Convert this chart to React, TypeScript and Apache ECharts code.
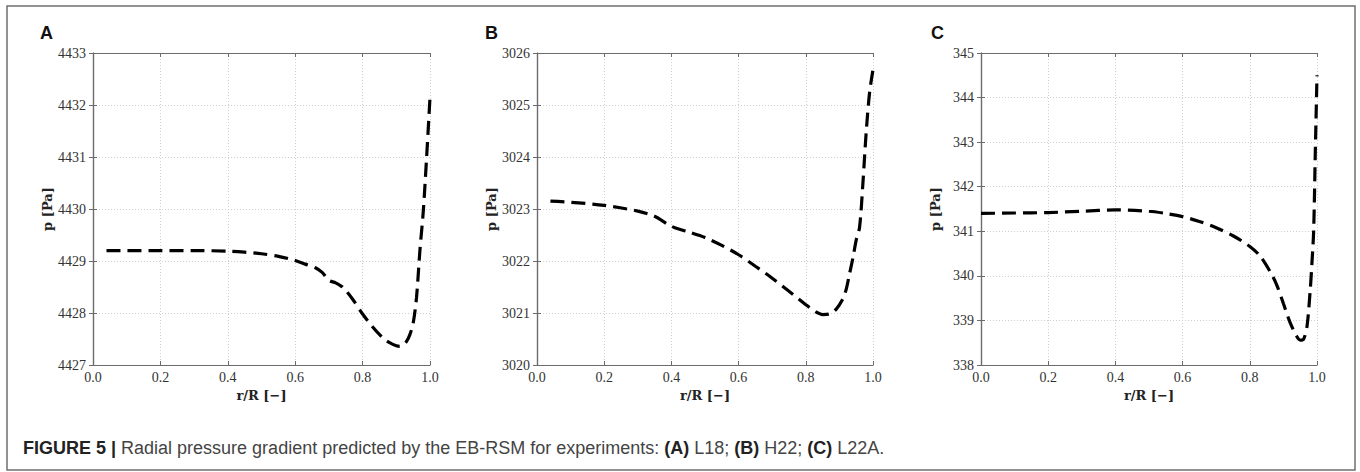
import React, { useEffect, useRef } from "react";
import * as echarts from "echarts";

// Panel A: L18
const rA = [0.04, 0.1, 0.2, 0.3, 0.4, 0.45, 0.5, 0.55, 0.6, 0.63, 0.66, 0.68, 0.7, 0.72, 0.74, 0.77, 0.8, 0.83, 0.86, 0.88, 0.9, 0.91, 0.92, 0.93, 0.94, 0.95, 0.96, 0.97, 0.98, 0.99, 1.0];
const pA = [4429.2, 4429.2, 4429.2, 4429.2, 4429.19, 4429.17, 4429.14, 4429.09, 4429.01, 4428.94, 4428.87, 4428.78, 4428.63, 4428.58, 4428.5, 4428.27, 4427.98, 4427.73, 4427.52, 4427.43, 4427.37, 4427.36, 4427.38, 4427.45, 4427.58, 4427.8, 4428.3, 4429.2, 4429.95, 4431.0, 4432.15];

// Panel B: H22
const rB = [0.04, 0.1, 0.2, 0.3, 0.35, 0.39, 0.41, 0.45, 0.5, 0.55, 0.6, 0.65, 0.7, 0.75, 0.8, 0.83, 0.85, 0.87, 0.89, 0.91, 0.92, 0.93, 0.94, 0.95, 0.96, 0.97, 0.98, 0.99, 1.0];
const pB = [3023.15, 3023.13, 3023.07, 3022.96, 3022.86, 3022.7, 3022.64, 3022.56, 3022.45, 3022.3, 3022.12, 3021.9, 3021.67, 3021.42, 3021.16, 3021.02, 3020.97, 3020.98, 3021.07, 3021.27, 3021.45, 3021.75, 3022.05, 3022.4, 3022.65, 3023.5, 3024.5, 3025.25, 3025.68];

// Panel C: L22A
const rC = [0.0, 0.1, 0.2, 0.3, 0.4, 0.5, 0.55, 0.6, 0.65, 0.7, 0.75, 0.8, 0.83, 0.86, 0.88, 0.9, 0.92, 0.94, 0.95, 0.96, 0.97, 0.98, 0.985, 0.99, 0.995, 1.0];
const pC = [341.4, 341.41, 341.42, 341.45, 341.48, 341.45, 341.4, 341.33, 341.22, 341.08, 340.9, 340.66, 340.45, 340.1, 339.8, 339.38, 338.95, 338.64, 338.56, 338.58, 338.85, 339.7, 340.3, 341.0, 342.8, 344.5];

const panelLetters = ["A", "B", "C"];
const yRanges = [
  [4427, 4433],
  [3020, 3026],
  [338, 345],
];
const xTickStep = 0.2;
const yTickStep = 1;
const xName = "r/R [−]";
const yName = "p [Pa]";
const captionBold = "FIGURE 5 |";
const captionText = " Radial pressure gradient predicted by the EB-RSM for experiments: ";

export default function App() {
  const ref = useRef<HTMLDivElement>(null);

  useEffect(() => {
    if (!ref.current) return;
    const chart = echarts.init(ref.current, undefined, { renderer: "svg" });

    const lefts = [93, 537, 981];
    const widths = [337, 336, 336];
    const datasets = [
      rA.map((r, i) => [r, pA[i]]),
      rB.map((r, i) => [r, pB[i]]),
      rC.map((r, i) => [r, pC[i]]),
    ];
    const axisGrey = "#6b6b6b";

    const grids: any[] = [];
    const xAxes: any[] = [];
    const yAxes: any[] = [];
    const series: any[] = [];

    for (let i = 0; i < 3; i++) {
      grids.push({ left: lefts[i], top: 53, width: widths[i], height: 312 });
      xAxes.push({
        type: "value",
        gridIndex: i,
        min: 0,
        max: 1,
        interval: xTickStep,
        position: "bottom",
        name: xName,
        nameLocation: "middle",
        nameGap: 18,
        nameTextStyle: {
          fontFamily: "DejaVu Serif",
          fontWeight: "bold",
          fontSize: 13,
          color: "#222",
        },
        axisLine: { show: true, lineStyle: { color: axisGrey, width: 1.2 } },
        axisTick: { show: true, inside: true, length: 4, lineStyle: { color: axisGrey } },
        axisLabel: {
          fontFamily: "Liberation Serif",
          fontSize: 14,
          color: "#333",
          margin: 5,
          formatter: (v: number) => v.toFixed(1),
        },
        splitLine: { show: true, lineStyle: { color: "#cfcfcf", type: [1, 2], width: 1 } },
      });
      xAxes.push({
        type: "value",
        gridIndex: i,
        min: 0,
        max: 1,
        interval: xTickStep,
        position: "top",
        axisLine: { show: true, lineStyle: { color: axisGrey, width: 1.2 } },
        axisTick: { show: true, inside: true, length: 4, lineStyle: { color: axisGrey } },
        axisLabel: { show: false },
        splitLine: { show: false },
      });
      yAxes.push({
        type: "value",
        gridIndex: i,
        min: yRanges[i][0],
        max: yRanges[i][1],
        interval: yTickStep,
        position: "left",
        name: yName,
        nameLocation: "middle",
        nameGap: 39,
        nameRotate: 90,
        nameTextStyle: {
          fontFamily: "DejaVu Serif",
          fontWeight: "bold",
          fontSize: 13,
          color: "#222",
        },
        axisLine: { show: true, lineStyle: { color: axisGrey, width: 1.2 } },
        axisTick: { show: true, inside: true, length: 4, lineStyle: { color: axisGrey } },
        axisLabel: {
          fontFamily: "Liberation Serif",
          fontSize: 14,
          color: "#333",
          margin: 7,
          formatter: (v: number) => String(v),
        },
        splitLine: { show: true, lineStyle: { color: "#cfcfcf", type: [1, 2], width: 1 } },
      });
      yAxes.push({
        type: "value",
        gridIndex: i,
        min: yRanges[i][0],
        max: yRanges[i][1],
        interval: yTickStep,
        position: "right",
        axisLine: { show: true, lineStyle: { color: axisGrey, width: 1.2 } },
        axisTick: { show: true, inside: true, length: 4, lineStyle: { color: axisGrey } },
        axisLabel: { show: false },
        splitLine: { show: false },
      });
      series.push({
        type: "line",
        xAxisIndex: i * 2,
        yAxisIndex: i * 2,
        data: datasets[i],
        showSymbol: false,
        smooth: 0.3,
        lineStyle: { color: "#000", width: 3.2, type: [14, 7] },
      });
    }

    const letterXs = [40, 485, 931];

    chart.setOption({
      animation: false,
      backgroundColor: "#fff",
      grid: grids,
      xAxis: xAxes,
      yAxis: yAxes,
      series,
      graphic: [
        {
          type: "rect",
          shape: { x: 7, y: 6, width: 1348, height: 464 },
          style: { fill: "none", stroke: "#6f6f6f", lineWidth: 1.5 },
          silent: true,
        },
        ...panelLetters.map((l, i) => ({
          type: "text",
          x: letterXs[i],
          y: 33,
          style: {
            text: l,
            font: "bold 18px 'Liberation Sans', Arial, sans-serif",
            fill: "#111",
            textVerticalAlign: "middle",
          },
        })),
        {
          type: "text",
          x: 23,
          y: 448,
          style: {
            text: `{b|${captionBold}}${captionText}{b|(A)} L18; {b|(B)} H22; {b|(C)} L22A.`,
            font: "18px 'Liberation Sans', Arial, sans-serif",
            fill: "#444",
            textVerticalAlign: "middle",
            rich: {
              b: {
                fontFamily: "Liberation Sans",
                fontWeight: "bold",
                fontSize: 18,
                fill: "#222",
              },
            },
          },
        },
      ],
    });

    return () => chart.dispose();
  }, []);

  return (
    <div
      ref={ref}
      style={{ position: "absolute", left: 0, top: 0, width: 1360, height: 472 }}
    />
  );
}
